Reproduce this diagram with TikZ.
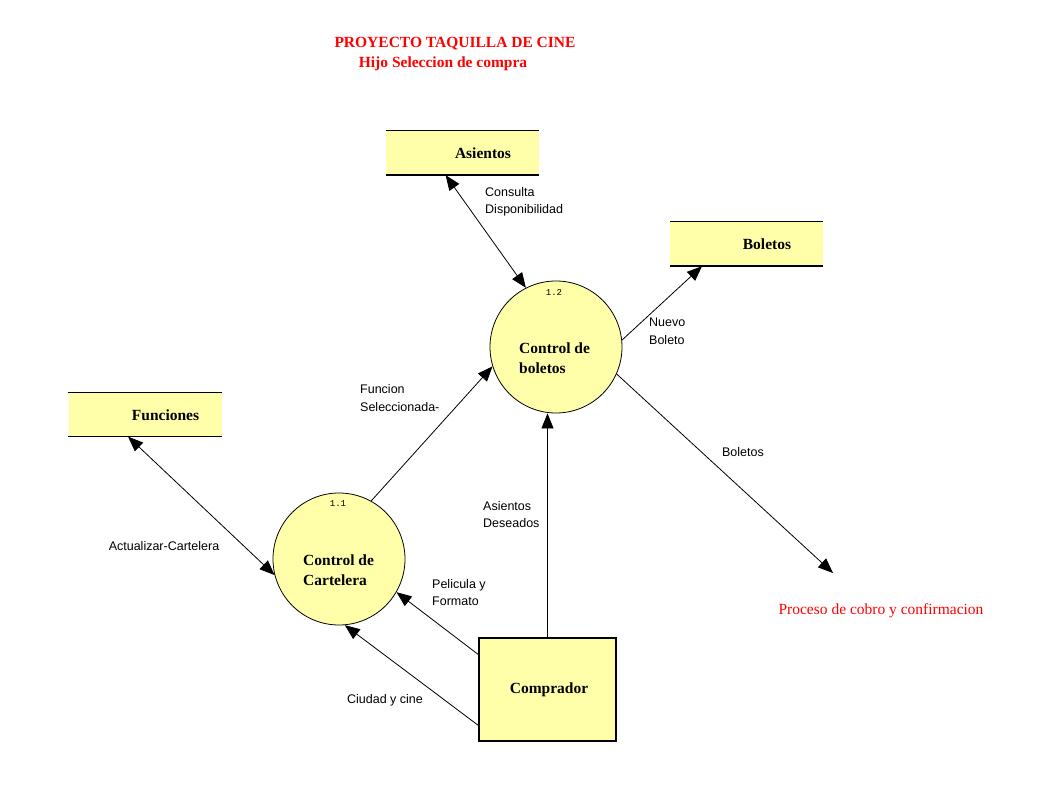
\documentclass[tikz,border=0pt]{standalone}
\usepackage{fontspec}
\setmainfont{Liberation Serif}
\setsansfont{Liberation Sans}
\setmonofont{Liberation Mono}
\usetikzlibrary{arrows.meta,calc}
\definecolor{storefill}{HTML}{FFFFAA}
\definecolor{titlered}{HTML}{FF0000}
\begin{document}
\begin{tikzpicture}[x=1pt,y=-1pt,
 store/.style={fill=storefill, minimum width=153pt, minimum height=44pt, inner sep=0pt},
 boldlbl/.style={font=\fontsize{15.5}{20}\selectfont\bfseries, inner sep=0pt, align=left},
 proc/.style={circle, draw, fill=storefill, minimum size=132pt, inner sep=0pt, line width=0.8pt},
 procnum/.style={font=\fontsize{9}{10}\selectfont\ttfamily, inner sep=0pt},
 flowlbl/.style={font=\fontsize{12.5}{17.5}\selectfont\sffamily, inner sep=0pt, align=left},
 titletxt/.style={font=\fontsize{15.5}{18}\selectfont\bfseries, text=titlered, inner sep=0pt},
 flow/.style={line width=0.8pt, -{Triangle[length=15pt,width=12pt]}},
 bflow/.style={line width=0.8pt, {Triangle[length=15pt,width=12pt]}-{Triangle[length=15pt,width=12pt]}},
 storeline/.style={line width=1.4pt}
 ]
\useasboundingbox (0,0) rectangle (1063,802);

% titles
\node[titletxt] (t1) at (455,44) {PROYECTO TAQUILLA DE CINE};
\node[titletxt] (t2) at (443,64) {Hijo Seleccion de compra};

% data stores
\node[store] (asientos) at (462.5,153) {};
\node[store] (boletos) at (746.5,244) {};
\node[store] (funciones) at (145,414.5) {};
\foreach \s in {asientos,boletos,funciones}{
  \draw[storeline] (\s.north west) -- (\s.north east) (\s.south west) -- (\s.south east);
}
\node[boldlbl] (asientosT) at (483,153) {Asientos};
\node[boldlbl] (boletosT) at (767,244) {Boletos};
\node[boldlbl] (funcionesT) at (165.5,415) {Funciones};

% processes
\node[proc] (c12) at (556,347) {};
\node[procnum] (n12) at (554,292) {1.2};
\node[boldlbl, anchor=west] (c12T) at (519,358) {Control de\\boletos};
\node[proc] (c11) at (339,559) {};
\node[procnum] (n11) at (338,504) {1.1};
\node[boldlbl, anchor=west] (c11T) at (303,570.5) {Control de\\Cartelera};

% external entity
\node[draw, fill=storefill, line width=1.2pt, minimum width=137pt, minimum height=103pt, inner sep=0pt] (comp) at (547.5,689.5) {};
\node[boldlbl] (compT) at (549,690) {Comprador};

% off-page endpoint
\coordinate (cobro) at (833,573);
\node[font=\fontsize{15.5}{18}\selectfont, text=titlered, inner sep=0pt] (cobroT) at (881,611) {Proceso de cobro y confirmacion};

% flows
\draw[bflow] ($(asientos.south west)!0.39!(asientos.south east)$) -- (c12.117);
\draw[flow] (c12.6) -- ($(boletos.south west)!0.21!(boletos.south east)$);
\draw[flow] (c12.-24) -- (cobro);
\draw[flow] (c11.61) -- (c12.197);
\draw[bflow] ($(funciones.south west)!0.39!(funciones.south east)$) -- (c11.194);
\draw[flow] (comp.north) -- (comp.north |- c12.south);
\draw[flow] ($(comp.north west)!0.165!(comp.south west)$) -- (c11.-30);
\draw[flow] ($(comp.north west)!0.845!(comp.south west)$) -- (c11.-85);

% flow labels
\node[flowlbl, anchor=west] (l1) at (485,202) {Consulta\\Disponibilidad};
\node[flowlbl, anchor=west] (l2) at (649,331.5) {Nuevo\\Boleto};
\node[flowlbl] (l3) at (743,452) {Boletos};
\node[flowlbl, anchor=west] (l4) at (360,398) {Funcion\\Seleccionada-};
\node[flowlbl] (l5) at (164,546) {Actualizar-Cartelera};
\node[flowlbl, anchor=west] (l6) at (483,514.5) {Asientos\\Deseados};
\node[flowlbl, anchor=west] (l7) at (432,592.5) {Pelicula y\\Formato};
\node[flowlbl] (l8) at (385,700) {Ciudad y cine};
\end{tikzpicture}
\end{document}
